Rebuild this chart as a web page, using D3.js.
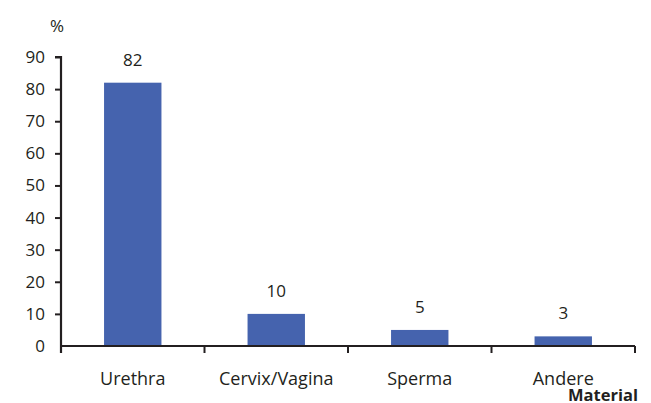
<!DOCTYPE html>
<html>
<head>
<meta charset="utf-8">
<script src="https://cdn.jsdelivr.net/npm/d3@7"></script>
<style>
  body { margin: 0; background: #fff; }
  text { font-family: "Open Sans", Lato, sans-serif; fill: #231f20; }
</style>
</head>
<body>
<div id="chart"></div>
<script>
var categories = ["Urethra", "Cervix/Vagina", "Sperma", "Andere"];
var values = [82, 10, 5, 3];
var yTicks = [0, 10, 20, 30, 40, 50, 60, 70, 80, 90];

var margin = {top: 57, right: 16, bottom: 57, left: 61};
var width = 651 - margin.left - margin.right;
var height = 403 - margin.top - margin.bottom;

var svg = d3.select("#chart").append("svg")
    .attr("width", 651)
    .attr("height", 403)
  .append("g")
    .attr("transform", "translate(" + margin.left + "," + margin.top + ")");

var xScale = d3.scaleBand().domain(categories).range([0, width]).paddingInner(0.6).paddingOuter(0.3);
var yScale = d3.scaleLinear().domain([0, 90]).range([height, 0]);

// bars
svg.selectAll("rect.bar").data(values).enter().append("rect")
    .attr("class", "bar")
    .attr("x", function(d, i) { return xScale(categories[i]); })
    .attr("y", function(d) { return yScale(d); })
    .attr("width", xScale.bandwidth())
    .attr("height", function(d) { return height - yScale(d); })
    .attr("fill", "#4563ae");

// value labels
svg.selectAll("text.val").data(values).enter().append("text")
    .attr("class", "val")
    .attr("x", function(d, i) { return xScale(categories[i]) + xScale.bandwidth() / 2; })
    .attr("y", function(d) { return yScale(d) - 17; })
    .attr("text-anchor", "middle")
    .style("font-size", "17px")
    .text(function(d) { return d; });

// y axis
var yAxis = d3.axisLeft(yScale).tickValues(yTicks).tickSize(6).tickPadding(10);
var gy = svg.append("g").call(yAxis);
gy.select(".domain").attr("d", "M-6," + yScale(90) + "H0V" + (height + 7)).attr("stroke", "#231f20").attr("stroke-width", 2.2).attr("fill", "none");
gy.selectAll(".tick line").attr("stroke", "#231f20").attr("stroke-width", 2);
gy.selectAll(".tick text").style("font-size", "17px").style("font-family", "'Open Sans', Lato, sans-serif").attr("fill", "#231f20");
gy.selectAll(".tick").filter(function(d) { return d === 0; }).select("line").remove();

// x axis: ticks at category boundaries
var bounds = [0].concat(categories.map(function(c) { return xScale(c) + xScale.bandwidth() + xScale.step() * xScale.paddingInner() / 2; }));
bounds[bounds.length - 1] = width;
var gx = svg.append("g").attr("transform", "translate(0," + height + ")");
gx.append("line").attr("x1", 0).attr("x2", width).attr("stroke", "#231f20").attr("stroke-width", 2.2);
gx.selectAll("line.tk").data(bounds.slice(1)).enter().append("line")
    .attr("class", "tk")
    .attr("x1", function(d) { return d; }).attr("x2", function(d) { return d; })
    .attr("y1", 0).attr("y2", 7)
    .attr("stroke", "#231f20").attr("stroke-width", 2);
gx.selectAll("text.cat").data(categories).enter().append("text")
    .attr("class", "cat")
    .attr("x", function(d) { return xScale(d) + xScale.bandwidth() / 2; })
    .attr("y", 39)
    .attr("text-anchor", "middle")
    .style("font-size", "18px")
    .text(function(d) { return d; });

// axis titles
svg.append("text").attr("x", -4).attr("y", -25).attr("text-anchor", "middle").style("font-size", "17px").text("%");
svg.append("text").attr("x", width + 3).attr("y", height + 55).attr("text-anchor", "end")
    .style("font-size", "16.5px").style("font-weight", "bold").text("Material");
</script>
</body>
</html>
